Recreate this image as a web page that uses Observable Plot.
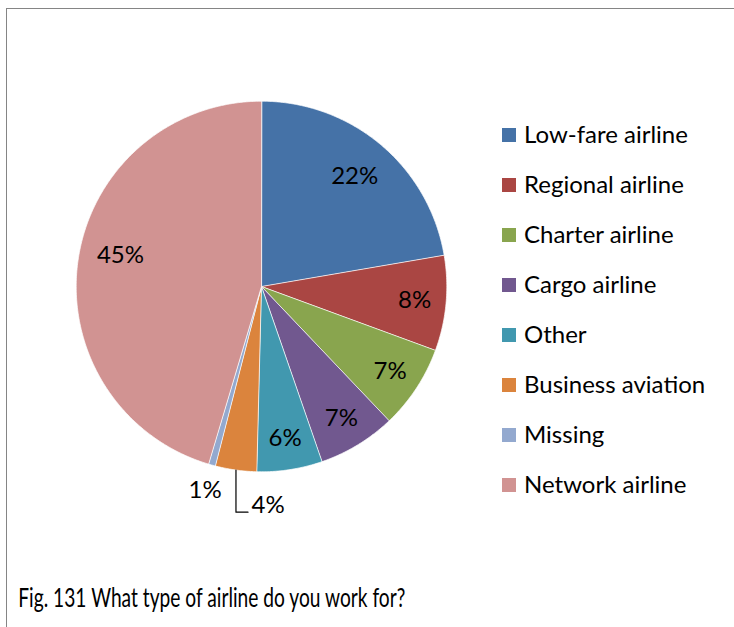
<!DOCTYPE html>
<html><head><meta charset="utf-8">
<script src="https://cdn.jsdelivr.net/npm/d3@7"></script>
<script src="https://cdn.jsdelivr.net/npm/@observablehq/plot@0.6"></script>
<style>
html,body{margin:0;padding:0;background:#fff;}
body{width:734px;height:627px;overflow:hidden;position:relative;font-family:Lato,"Noto Sans",sans-serif;color:#000;}
#frame{position:absolute;left:6px;top:8px;width:760px;height:660px;border:1.6px solid #858585;box-sizing:border-box;}
#chart{position:absolute;left:0;top:0;}
#legend{position:absolute;left:502px;top:108.5px;}
.item{display:flex;align-items:center;height:50px;font-size:24px;white-space:nowrap;}
.sw{width:14px;height:14px;margin-right:8px;flex:none;position:relative;top:1px;}
#cap{position:absolute;left:0;top:0;}
</style></head>
<body>
<div id="frame"></div>
<div id="chart"></div>
<div id="legend"></div>
<script>
const categories = ["Low-fare airline","Regional airline","Charter airline","Cargo airline","Other","Business aviation","Missing","Network airline"];
const shares = [22.3, 8.3, 7.3, 6.8, 5.7, 3.6, 0.6, 45.4];
const labels = ["22%","8%","7%","7%","6%","4%","1%","45%"];
const colors = ["#4572A7","#AA4643","#89A54E","#71588F","#4198AF","#DB843D","#93A9CF","#D19392"];
const caption = "Fig. 131 What type of airline do you work for?";

const FONT = "Lato";
const cx = 261, cy = 286, R = 185.3;

const arcs = d3.pie().sort(null).value(d => d)(shares);
const slicePts = [];
arcs.forEach((a, i) => {
  const n = Math.max(2, Math.ceil((a.endAngle - a.startAngle) / (Math.PI / 360)));
  slicePts.push({cat: categories[i], x: 0, y: 0});
  for (let k = 0; k <= n; k++) {
    const t = a.startAngle + (a.endAngle - a.startAngle) * k / n;
    slicePts.push({cat: categories[i], x: Math.sin(t), y: -Math.cos(t)});
  }
});

const midLabels = [], startLabels = [], leaders = [];
arcs.forEach((a, i) => {
  let m = (a.startAngle + a.endAngle) / 2;
  const s = shares[i];
  if (s >= 5) {
    const r = s > 20 ? 0.78 : 0.83;
    if (s > 40) m += 0.075; // best-fit nudge for the large slice
    midLabels.push({x: r * Math.sin(m), y: -r * Math.cos(m), t: labels[i]});
  } else if (s < 1.5) {
    const r = 1.14;
    midLabels.push({x: r * Math.sin(m), y: -r * Math.cos(m), t: labels[i]});
  } else {
    const ex = Math.sin(m), ey = -Math.cos(m);
    leaders.push({x: ex, y: ey, k: i}, {x: ex, y: 1.218, k: i}, {x: ex + 0.065, y: 1.218, k: i});
    startLabels.push({x: ex + 0.084, y: 1.18, t: labels[i]});
  }
});

const plot = Plot.plot({
  width: 734, height: 627,
  margin: 0,
  x: {domain: [-1, 1], range: [cx - R, cx + R], axis: null},
  y: {domain: [-1, 1], range: [cy - R, cy + R], axis: null},
  color: {domain: categories, range: colors},
  style: {background: "transparent", fontFamily: FONT},
  marks: [
    Plot.line(slicePts, {x: "x", y: "y", z: "cat", fill: "cat", stroke: "white", strokeWidth: 0.7, curve: "linear-closed"}),
    Plot.line(leaders, {x: "x", y: "y", z: "k", stroke: "black", strokeWidth: 1.2}),
    Plot.text(midLabels, {x: "x", y: "y", text: "t", fontSize: 24, fill: "black", fontFamily: FONT}),
    Plot.text(startLabels, {x: "x", y: "y", text: "t", fontSize: 24, fill: "black", textAnchor: "start", fontFamily: FONT})
  ]
});
document.getElementById("chart").appendChild(plot);

// legend
const leg = d3.select("#legend");
categories.forEach((c, i) => {
  const it = leg.append("div").attr("class", "item");
  it.append("div").attr("class", "sw").style("background", colors[i]);
  it.append("span").text(c);
});

// caption
const capSvg = d3.select("body").append("svg").attr("id", "cap").attr("width", 734).attr("height", 627);
capSvg.append("text")
  .attr("x", 18.3).attr("y", 606.7)
  .attr("font-family", FONT).attr("font-size", 26.5)
  .attr("textLength", 387).attr("lengthAdjust", "spacingAndGlyphs")
  .text(caption);
</script>
</body></html>
